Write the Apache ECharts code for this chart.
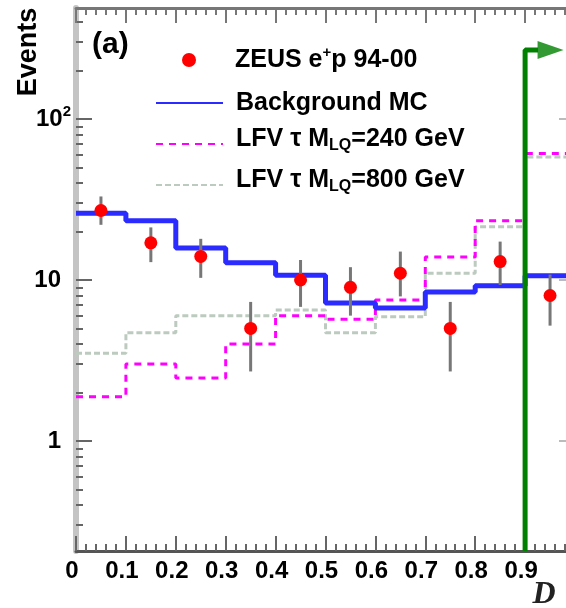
<!DOCTYPE html>
<html>
<head>
<meta charset="utf-8">
<script src="https://cdn.jsdelivr.net/npm/echarts@6.0.0/dist/echarts.min.js"></script>
<style>
  html, body { margin: 0; padding: 0; background: #fff; }
  #chart { width: 566px; height: 608px; }
</style>
</head>
<body>
<div id="chart"></div>
<script>
// Histogram bins in D (10 bins of 0.1)
const binEdges = [0, 0.1, 0.2, 0.3, 0.4, 0.5, 0.6, 0.7, 0.8, 0.9, 1.0];
const binCentres = [0.05, 0.15, 0.25, 0.35, 0.45, 0.55, 0.65, 0.75, 0.85, 0.95];

// ZEUS e+p 94-00 data with error bar ends
const dataCounts = [27, 17, 14, 5, 10, 9, 11, 5, 13, 8];
const dataErrLow = [22, 12.9, 10.3, 2.7, 6.8, 6.0, 7.9, 2.7, 9.3, 5.2];
const dataErrHigh = [33, 21.2, 18, 7.3, 13.3, 12.0, 15.0, 7.3, 17.3, 10.8];

// MC histograms
const bgMC = [26, 23.3, 15.8, 12.8, 10.7, 7.2, 6.7, 8.4, 9.2, 10.6];
const lfv240 = [1.88, 3.0, 2.46, 4.0, 6.0, 5.7, 7.5, 13.9, 23.3, 61];
const lfv800 = [3.5, 4.7, 6.0, 6.0, 6.5, 4.7, 5.9, 11.0, 21.4, 58];

// Cut arrow (D > 0.9)
const cutD = 0.9;
const arrowLevel = 268;
const arrowEnd = 0.926;
const arrowHead = 0.951;

// Axes
const Y_MIN = 0.207;
const Y_MAX = 489;
const xTickLabels = ['0', '0.1', '0.2', '0.3', '0.4', '0.5', '0.6', '0.7', '0.8', '0.9', ''];
const yMajorTicks = [1, 10, 100];
const yMajorLabels = ['1{pad| }', '10{pad| }', '10{sup|2}'];
const yMinorTicks = [0.3, 0.4, 0.5, 0.6, 0.7, 0.8, 0.9,
    2, 3, 4, 5, 6, 7, 8, 9,
    20, 30, 40, 50, 60, 70, 80, 90,
    200, 300, 400];

const NAME_DATA = 'ZEUS e+p 94-00';
const NAME_BG = 'Background MC';
const NAME_240 = 'LFV 240';
const NAME_800 = 'LFV 800';
const legendText = {};
legendText[NAME_DATA] = 'ZEUS e{sup|+}p 94-00';
legendText[NAME_BG] = 'Background MC';
legendText[NAME_240] = 'LFV τ M{sub|LQ}=240 GeV';
legendText[NAME_800] = 'LFV τ M{sub|LQ}=800 GeV';

const FONT = 'Liberation Sans';

function histSteps(values) {
    return binEdges.map((x, i) => [x, values[Math.min(i, values.length - 1)]]);
}

const chart = echarts.init(document.getElementById('chart'), null, { renderer: 'canvas' });

const richText = {
    sup: { fontFamily: FONT, fontWeight: 'bold', fontSize: 15, lineHeight: 14, verticalAlign: 'top', color: '#000' },
    sub: { fontFamily: FONT, fontWeight: 'bold', fontSize: 16, lineHeight: 16, verticalAlign: 'bottom', color: '#000' },
    pad: { fontFamily: FONT, fontSize: 15, width: 10 }
};

function legendTextStyle(padLeft, padBottom) {
    return {
        fontFamily: FONT, fontWeight: 'bold', fontSize: 25, color: '#000',
        lineHeight: 30, padding: [0, 0, padBottom || 0, padLeft], rich: richText
    };
}

// line legends: 67 px line sample, no marker on it
// (extra bottom padding drops the sample a little below the text, as in the original)
function lineLegend(name, top, padBottom) {
    return {
        data: [name], left: 155, top: top, padding: 0,
        itemWidth: 67, itemHeight: 14, selectedMode: false,
        itemStyle: { color: 'rgba(0,0,0,0)', borderWidth: 0 },
        formatter: n => legendText[n],
        textStyle: legendTextStyle(8, padBottom)
    };
}

function yAxisBase(position) {
    return {
        type: 'log', logBase: 10, min: Y_MIN, max: Y_MAX, position: position,
        splitLine: { show: false }
    };
}

const option = {
    animation: false,
    backgroundColor: '#fff',
    // the frame runs past the right edge of the picture (D = 1 is cut off)
    grid: { left: 76, top: 8, width: 499, height: 543, containLabel: false, outerBoundsMode: 'none' },
    legend: [
        {
            data: [NAME_DATA], left: 182, top: 45, padding: 0,
            itemWidth: 14, itemHeight: 14, selectedMode: false,
            formatter: n => legendText[n],
            textStyle: legendTextStyle(34)
        },
        lineLegend(NAME_BG, 88, 0),
        lineLegend(NAME_240, 124, 10),
        lineLegend(NAME_800, 165, 10)
    ],
    xAxis: [
        {
            type: 'value', min: 0, max: 1, interval: 0.1, position: 'bottom',
            axisLine: { lineStyle: { color: '#555', width: 3 } },
            axisTick: { inside: true, length: 15, lineStyle: { color: '#666', width: 2 } },
            minorTick: { show: true, splitNumber: 5, length: 7, lineStyle: { color: '#666', width: 2 } },
            splitLine: { show: false },
            axisLabel: {
                fontFamily: FONT, fontWeight: 'bold', fontSize: 24, color: '#000',
                margin: 8, padding: [0, 8, 0, 0],
                formatter: v => xTickLabels[Math.round(v * 10)]
            }
        },
        {
            type: 'value', min: 0, max: 1, interval: 0.1, position: 'top',
            axisLine: { lineStyle: { color: '#777', width: 3 } },
            axisTick: { inside: true, length: 15, lineStyle: { color: '#777', width: 2 } },
            minorTick: { show: true, splitNumber: 5, length: 7, lineStyle: { color: '#777', width: 2 } },
            splitLine: { show: false },
            axisLabel: { show: false }
        }
    ],
    yAxis: [
        Object.assign(yAxisBase('left'), {
            axisLine: { show: true, lineStyle: { color: '#c4c4c4', width: 6 } },
            axisTick: { inside: true, length: 16, customValues: yMajorTicks, lineStyle: { color: '#666', width: 2 } },
            axisLabel: {
                customValues: yMajorTicks,
                fontFamily: FONT, fontWeight: 'bold', fontSize: 24, color: '#000', margin: 5,
                lineHeight: 30,
                formatter: v => {
                    const i = yMajorTicks.findIndex(t => Math.abs(Math.log10(v) - Math.log10(t)) < 1e-6);
                    return i < 0 ? '' : yMajorLabels[i];
                },
                rich: richText
            }
        }),
        Object.assign(yAxisBase('left'), {
            axisLine: { show: false },
            axisTick: { inside: true, length: 7, customValues: yMinorTicks, lineStyle: { color: '#666', width: 2 } },
            axisLabel: { show: false }
        }),
        Object.assign(yAxisBase('right'), {
            axisLine: { show: true, lineStyle: { color: '#c4c4c4', width: 6 } },
            axisTick: { inside: true, length: 16, customValues: yMajorTicks, lineStyle: { color: '#bbb', width: 2 } },
            axisLabel: { show: false }
        }),
        Object.assign(yAxisBase('right'), {
            axisLine: { show: false },
            axisTick: { inside: true, length: 7, customValues: yMinorTicks, lineStyle: { color: '#bbb', width: 2 } },
            axisLabel: { show: false }
        })
    ],
    graphic: [
        {
            type: 'text', left: 92, top: 30,
            style: { text: '(a)', font: 'bold 30px "Liberation Sans"', fill: '#000' }
        },
        {
            type: 'text', x: 29, y: 52, rotation: Math.PI / 2,
            style: { text: 'Events', font: 'bold 27px "Liberation Sans"', fill: '#000', align: 'center', verticalAlign: 'middle' }
        },
        {
            type: 'text', x: 544, y: 595,
            style: { text: 'D', font: 'italic bold 32px "Liberation Serif"', fill: '#222', align: 'center', verticalAlign: 'middle' }
        }
    ],
    series: [
        {
            name: NAME_800, type: 'line', step: 'end', symbol: 'none',
            data: histSteps(lfv800),
            lineStyle: { color: '#bccabf', width: 3, type: [6, 3] },
            itemStyle: { color: '#bccabf' },
            z: 2
        },
        {
            name: NAME_240, type: 'line', step: 'end', symbol: 'none',
            data: histSteps(lfv240),
            lineStyle: { color: '#ff00ff', width: 3, type: [7, 6] },
            itemStyle: { color: '#ff00ff' },
            z: 3
        },
        {
            name: NAME_BG, type: 'line', step: 'end', symbol: 'none',
            data: histSteps(bgMC),
            lineStyle: { color: '#2b2bff', width: 5 },
            itemStyle: { color: '#2b2bff' },
            z: 4
        },
        {
            name: 'errors', type: 'custom', silent: true, z: 5,
            data: binCentres.map((x, i) => [x, dataErrLow[i], dataErrHigh[i]]),
            encode: { x: 0, y: [1, 2] },
            renderItem: (params, api) => {
                const lo = api.coord([api.value(0), api.value(1)]);
                const hi = api.coord([api.value(0), api.value(2)]);
                return {
                    type: 'line',
                    shape: { x1: lo[0], y1: lo[1], x2: hi[0], y2: hi[1] },
                    style: { stroke: '#777', lineWidth: 3 }
                };
            }
        },
        {
            name: NAME_DATA, type: 'scatter', symbol: 'circle', symbolSize: 13,
            data: binCentres.map((x, i) => [x, dataCounts[i]]),
            itemStyle: { color: '#ff0000', opacity: 1 },
            z: 6
        },
        {
            name: 'cut', type: 'line', symbol: 'none', silent: true,
            data: [[cutD, Y_MIN], [cutD, arrowLevel], [arrowEnd, arrowLevel]],
            lineStyle: { color: '#008000', width: 5 },
            z: 7
        },
        {
            name: 'cutHead', type: 'scatter', silent: true, symbol: 'triangle',
            symbolRotate: -90, symbolSize: [18, 26],
            data: [[arrowHead, arrowLevel]],
            itemStyle: { color: '#008000' },
            z: 7
        }
    ]
};

chart.setOption(option);
</script>
</body>
</html>
